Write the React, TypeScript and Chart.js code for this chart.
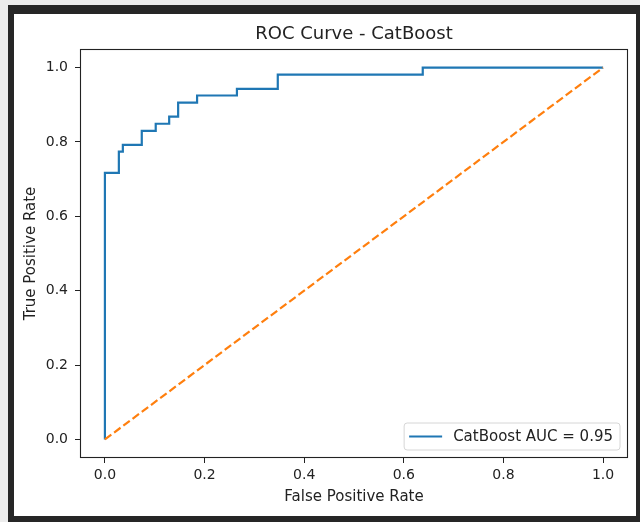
import React, { useEffect, useRef } from "react";
import { Chart, registerables } from "chart.js";

Chart.register(...registerables);

// ROC curve points (false positive rate, true positive rate)
const fpr = [0, 0, 0.028, 0.028, 0.036, 0.036, 0.074, 0.074, 0.102, 0.102, 0.129, 0.129, 0.147, 0.147, 0.185, 0.185, 0.265, 0.265, 0.347, 0.347, 0.638, 0.638, 1.0];
const tpr = [0, 0.717, 0.717, 0.774, 0.774, 0.792, 0.792, 0.83, 0.83, 0.849, 0.849, 0.868, 0.868, 0.906, 0.906, 0.925, 0.925, 0.943, 0.943, 0.981, 0.981, 1.0, 1.0];
// chance diagonal
const diagX = [0, 1];
const diagY = [0, 1];

const xTicks = [0, 0.2, 0.4, 0.6, 0.8, 1.0];
const yTicks = [0, 0.2, 0.4, 0.6, 0.8, 1.0];

const titleText = "ROC Curve - CatBoost";
const xLabel = "False Positive Rate";
const yLabel = "True Positive Rate";
const legendLabel = "CatBoost AUC = 0.95";

const FONT = "'DejaVu Sans', sans-serif";
const TEXT = "#222";

const overlayPlugin = {
  id: "overlay",
  afterDatasetsDraw(chart: any) {
    const { ctx, chartArea: a } = chart;
    ctx.save();
    // axes box
    ctx.strokeStyle = "#222";
    ctx.lineWidth = 1.1;
    ctx.strokeRect(a.left + 0.5, a.top + 0.5, a.right - a.left - 1, a.bottom - a.top - 1);

    // legend
    ctx.font = `15px ${FONT}`;
    const tw = ctx.measureText(legendLabel).width;
    const padL = 5, lineLen = 33, gap = 11, padR = 7;
    const w = padL + lineLen + gap + tw + padR;
    const h = 27;
    const right = a.right - 8;
    const bottom = a.bottom - 8;
    const left = right - w;
    const top = bottom - h;
    ctx.beginPath();
    const r = 3;
    ctx.moveTo(left + r, top);
    ctx.lineTo(right - r, top);
    ctx.quadraticCurveTo(right, top, right, top + r);
    ctx.lineTo(right, bottom - r);
    ctx.quadraticCurveTo(right, bottom, right - r, bottom);
    ctx.lineTo(left + r, bottom);
    ctx.quadraticCurveTo(left, bottom, left, bottom - r);
    ctx.lineTo(left, top + r);
    ctx.quadraticCurveTo(left, top, left + r, top);
    ctx.closePath();
    ctx.fillStyle = "rgba(255,255,255,0.85)";
    ctx.fill();
    ctx.strokeStyle = "#d6d6d6";
    ctx.lineWidth = 1;
    ctx.stroke();
    const cy = top + h / 2;
    ctx.strokeStyle = "#1f77b4";
    ctx.lineWidth = 2.2;
    ctx.beginPath();
    ctx.moveTo(left + padL, cy);
    ctx.lineTo(left + padL + lineLen, cy);
    ctx.stroke();
    ctx.fillStyle = TEXT;
    ctx.textAlign = "left";
    ctx.textBaseline = "middle";
    ctx.fillText(legendLabel, left + padL + lineLen + gap, cy + 0.5);

    // title
    ctx.font = `18px ${FONT}`;
    ctx.textAlign = "center";
    ctx.textBaseline = "middle";
    ctx.fillText(titleText, (a.left + a.right) / 2, 20);
    ctx.restore();
  },
};

export default function App() {
  const ref = useRef<HTMLCanvasElement | null>(null);
  useEffect(() => {
    if (!ref.current) return;
    const chart = new Chart(ref.current, {
      type: "scatter",
      data: {
        datasets: [
          {
            label: legendLabel,
            data: fpr.map((x, i) => ({ x, y: tpr[i] })),
            showLine: true,
            borderColor: "#1f77b4",
            borderWidth: 2.2,
            pointRadius: 0,
            fill: false,
            order: 2,
          },
          {
            label: "chance",
            data: diagX.map((x, i) => ({ x, y: diagY[i] })),
            showLine: true,
            borderColor: "#ff7f0e",
            borderWidth: 2.2,
            borderDash: [8, 3.5],
            pointRadius: 0,
            fill: false,
            order: 1,
          },
        ],
      },
      options: {
        animation: false,
        responsive: false,
        devicePixelRatio: 1,
        layout: { padding: { top: 35, right: 8, left: 0, bottom: 0 } },
        plugins: {
          legend: { display: false },
          title: { display: false },
          tooltip: { enabled: false },
        },
        scales: {
          x: {
            type: "linear",
            min: -0.05,
            max: 1.05,
            afterBuildTicks: (s: any) => {
              s.ticks = xTicks.map((v) => ({ value: v }));
            },
            afterFit: (s: any) => {
              s.height = 58;
            },
            grid: { display: true, drawOnChartArea: false, drawTicks: true, tickLength: 5, color: "#222", lineWidth: 1 },
            border: { display: false },
            ticks: {
              padding: 4,
              color: TEXT,
              font: { family: FONT, size: 14 },
              maxRotation: 0,
              callback: (v: any) => Number(v).toFixed(1),
            },
            title: {
              display: true,
              text: xLabel,
              color: TEXT,
              font: { family: FONT, size: 15 },
              padding: { top: 0, bottom: 10 },
            },
          },
          y: {
            type: "linear",
            min: -0.05,
            max: 1.05,
            afterBuildTicks: (s: any) => {
              s.ticks = yTicks.map((v) => ({ value: v }));
            },
            afterFit: (s: any) => {
              s.width = 66;
            },
            grid: { display: true, drawOnChartArea: false, drawTicks: true, tickLength: 5, color: "#222", lineWidth: 1 },
            border: { display: false },
            ticks: {
              padding: 7,
              color: TEXT,
              font: { family: FONT, size: 14 },
              callback: (v: any) => Number(v).toFixed(1),
            },
            title: {
              display: true,
              text: yLabel,
              color: TEXT,
              font: { family: FONT, size: 15 },
              padding: { top: 8, bottom: 0 },
            },
          },
        },
      },
      plugins: [overlayPlugin],
    });
    return () => chart.destroy();
  }, []);

  return (
    <div style={{ position: "fixed", left: 0, top: 0, width: 640, height: 522, background: "#ececec" }}>
      <div style={{ position: "absolute", left: 8, top: 5, width: 632, height: 517, background: "#262626" }} />
      <div style={{ position: "absolute", left: 14, top: 14, width: 622, height: 502, background: "#ffffff" }}>
        <canvas ref={ref} width={622} height={502} style={{ display: "block", width: 622, height: 502 }} />
      </div>
    </div>
  );
}
